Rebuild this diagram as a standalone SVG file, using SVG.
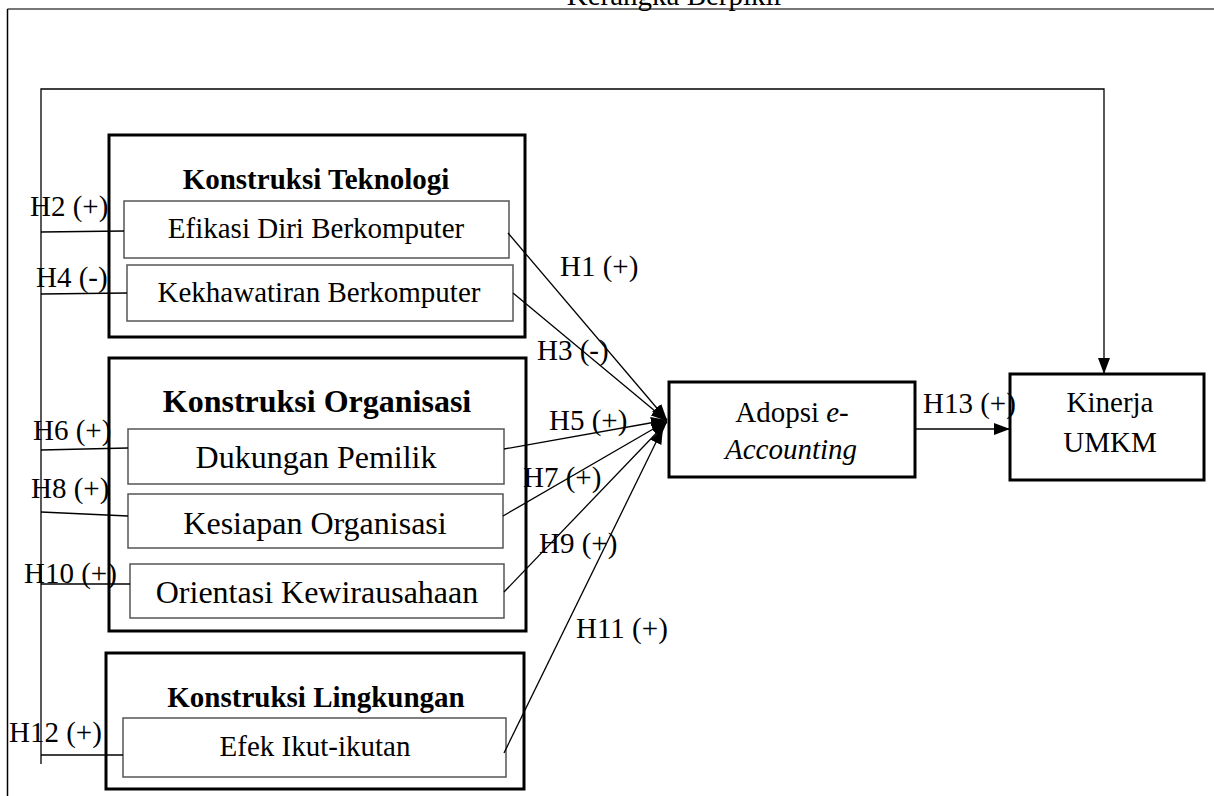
<svg xmlns="http://www.w3.org/2000/svg" width="1214" height="796" viewBox="0 0 1214 796">
<style>
text{font-family:"Liberation Serif","Times New Roman",serif;fill:#000}
.t{font-size:29px}
.o{font-size:32px}
.b{font-weight:bold}
.m{text-anchor:middle}
.grp{fill:none;stroke:#000;stroke-width:3}
.inner{fill:#fff;stroke:#555;stroke-width:1.5}
.main{fill:#fff;stroke:#000;stroke-width:3}
.c{fill:none;stroke:#000;stroke-width:1.3}
</style>
<defs>
<marker id="ah" markerWidth="16" markerHeight="12" refX="16" refY="6" orient="auto" markerUnits="userSpaceOnUse"><path d="M0,0 L16,6 L0,12 z" fill="#000"/></marker>
</defs>
<rect width="1214" height="796" fill="#fff"/>
<g id="frame">
<line x1="7.5" y1="9" x2="1214" y2="9" stroke="#777" stroke-width="2"/>
<line x1="7.5" y1="9" x2="7.5" y2="796" stroke="#000" stroke-width="1.5"/>
<text class="t m" x="675" y="5">Kerangka Berpikir</text>
</g>
<g id="konstruksi-teknologi">
<rect class="grp" x="109" y="135" width="416" height="202"/>
<text class="t b m" x="316" y="189">Konstruksi Teknologi</text>
</g>
<g id="efikasi">
<rect class="inner" x="124" y="201" width="385" height="57"/>
<text class="t m" x="316" y="238">Efikasi Diri Berkomputer</text>
</g>
<g id="kekhawatiran">
<rect class="inner" x="127" y="265" width="386" height="56"/>
<text class="t m" x="319" y="302">Kekhawatiran Berkomputer</text>
</g>
<g id="konstruksi-organisasi">
<rect class="grp" x="109" y="358" width="417" height="273"/>
<text class="o b m" x="317" y="412">Konstruksi Organisasi</text>
</g>
<g id="dukungan">
<rect class="inner" x="128" y="429" width="376" height="55"/>
<text class="o m" x="316" y="468">Dukungan Pemilik</text>
</g>
<g id="kesiapan">
<rect class="inner" x="128" y="494" width="375" height="54"/>
<text class="o m" x="315" y="534">Kesiapan Organisasi</text>
</g>
<g id="orientasi">
<rect class="inner" x="130" y="564" width="374" height="54"/>
<text class="o m" x="317" y="603">Orientasi Kewirausahaan</text>
</g>
<g id="konstruksi-lingkungan">
<rect class="grp" x="106" y="653" width="418" height="136"/>
<text class="t b m" x="316" y="707">Konstruksi Lingkungan</text>
</g>
<g id="efek">
<rect class="inner" x="123" y="718" width="383" height="59"/>
<text class="t m" x="315" y="756">Efek Ikut-ikutan</text>
</g>
<g id="adopsi">
<rect class="main" x="669" y="382" width="246" height="95"/>
<text class="t m" x="792" y="422">Adopsi <tspan font-style="italic">e-</tspan></text>
<text class="t m" x="791" y="459" font-style="italic">Accounting</text>
</g>
<g id="kinerja">
<rect class="main" x="1010" y="374" width="194" height="106"/>
<text class="t m" x="1110" y="412">Kinerja</text>
<text class="t m" x="1110" y="452">UMKM</text>
</g>
<g id="connectors">
<polyline class="c" points="41,764 41,89 1104,89 1104,374" marker-end="url(#ah)"/>
<line class="c" x1="41" y1="232" x2="124" y2="231"/>
<line class="c" x1="41" y1="294" x2="127" y2="293"/>
<line class="c" x1="41" y1="450" x2="128" y2="448"/>
<line class="c" x1="41" y1="512" x2="128" y2="516"/>
<line class="c" x1="41" y1="584" x2="130" y2="584"/>
<line class="c" x1="41" y1="755" x2="123" y2="755"/>
<line class="c" x1="508" y1="233" x2="667" y2="420" marker-end="url(#ah)"/>
<line class="c" x1="513" y1="293" x2="667" y2="421" marker-end="url(#ah)"/>
<line class="c" x1="504" y1="449" x2="667" y2="420" marker-end="url(#ah)"/>
<line class="c" x1="503" y1="516" x2="667" y2="421" marker-end="url(#ah)"/>
<line class="c" x1="504" y1="592" x2="667" y2="422" marker-end="url(#ah)"/>
<line class="c" x1="504" y1="753" x2="663" y2="428" marker-end="url(#ah)"/>
<line class="c" x1="915" y1="429" x2="1010" y2="429" marker-end="url(#ah)"/>
</g>
<g id="labels">
<text class="t" x="30" y="216">H2 (+)</text>
<text class="t" x="36" y="287">H4 (-)</text>
<text class="t" x="33" y="440">H6 (+)</text>
<text class="t" x="31" y="498">H8 (+)</text>
<text class="t" x="24" y="583">H10 (+)</text>
<text class="t" x="9" y="742">H12 (+)</text>
<text class="t" x="560" y="276">H1 (+)</text>
<text class="t" x="537" y="360">H3 (-)</text>
<text class="t" x="549" y="430">H5 (+)</text>
<text class="t" x="523" y="487">H7 (+)</text>
<text class="t" x="539" y="553">H9 (+)</text>
<text class="t" x="576" y="638">H11 (+)</text>
<text class="t" x="923" y="413">H13 (+)</text>
</g>
</svg>
